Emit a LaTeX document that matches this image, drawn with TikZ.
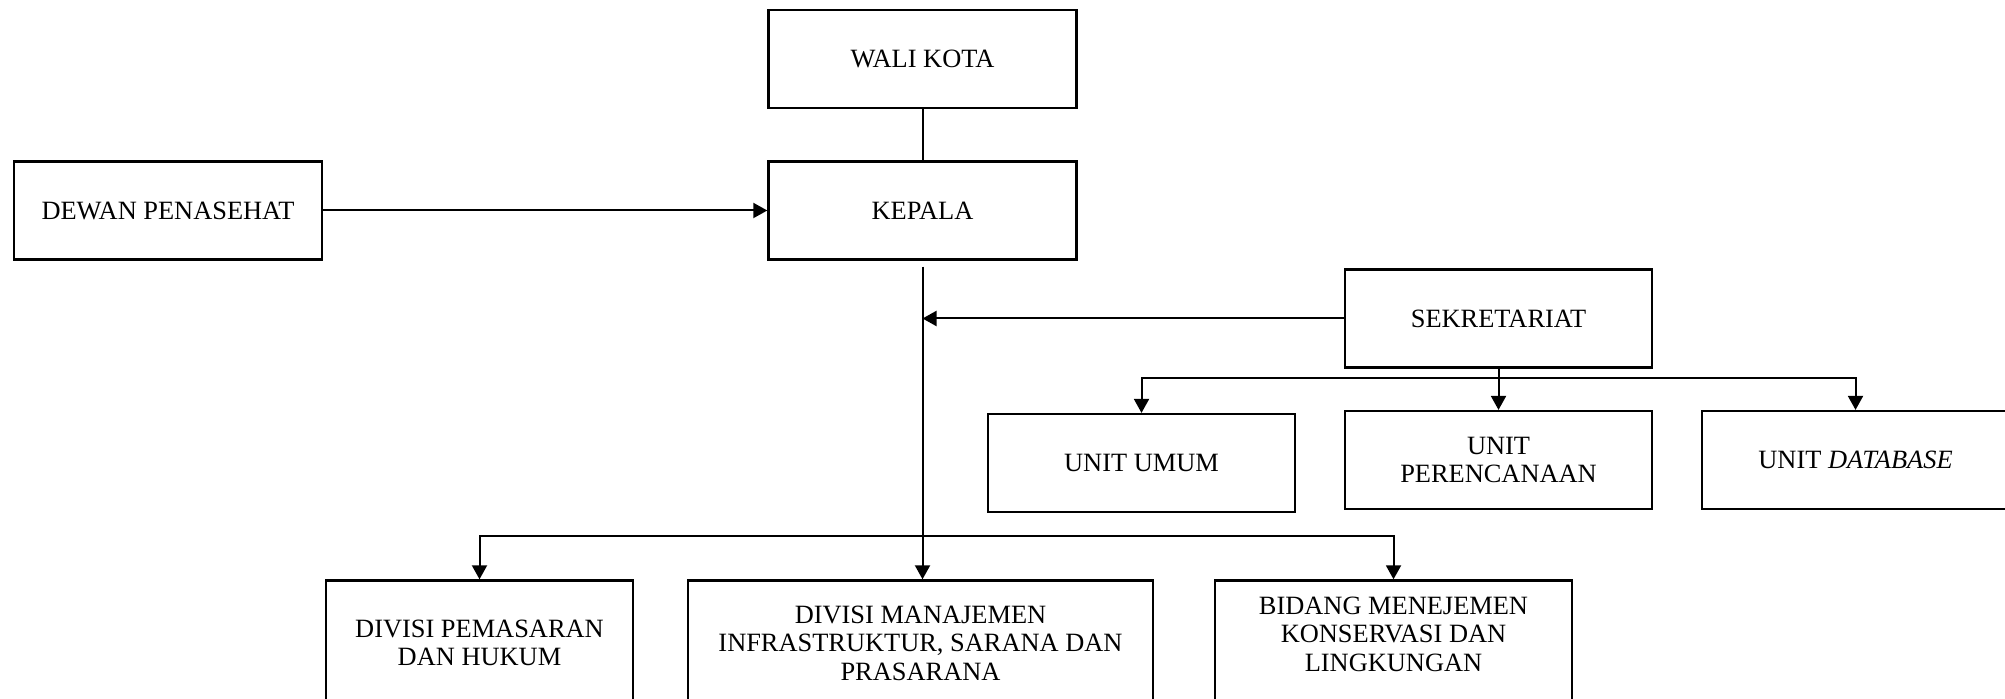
\documentclass[tikz,border=0pt]{standalone}
\usepackage{fontspec}
\setmainfont{Liberation Serif}
\usepackage{tikz}
\usetikzlibrary{%
  arrows.meta, positioning, calc
}
\tikzstyle{obox} = [%
  rectangle,
  draw=black,
  line width=1.2pt,
  minimum width=154pt,
  minimum height=49pt,
  align=center,
  text centered,
  inner sep=2pt,
  font=\fontsize{13.2pt}{14.3pt}\selectfont
]

\begin{document}
\begin{tikzpicture}[%
  orgline/.style={%
    line width=1pt,
    -{Triangle[length=7pt,width=7.5pt]}
  },
  plainline/.style={%
    line width=1pt
  },
  lowbox/.style={%
    obox,
    minimum height=62.5pt
  }
]

  \useasboundingbox (0pt,0pt) rectangle (1002.5pt,-349.5pt);

  % Nodes
  \node[obox] (wali) at (461.25pt,-29.5pt) {WALI KOTA};
  \node[obox,below=25.55pt of wali] (kepala) {KEPALA};
  \node[obox,left=222.05pt of kepala] (dewan) {DEWAN PENASEHAT};
  \node[obox,below=3.8pt of kepala,xshift=288pt,minimum width=153.5pt] (sekre) {SEKRETARIAT};
  \node[obox,below=20.6pt of sekre,minimum width=153.5pt] (peren) {UNIT\\PERENCANAAN};
  \node[obox,left=23.8pt of peren,yshift=-1.5pt,minimum width=153.5pt] (umum) {UNIT UMUM};
  \node[obox,right=23.8pt of peren,minimum width=153.5pt] (datab) {UNIT \textit{DATABASE}};
  \node[lowbox,below=159.3pt of kepala,xshift=-1pt,minimum width=232.5pt] (manaj) {DIVISI MANAJEMEN\\INFRASTRUKTUR, SARANA DAN\\PRASARANA};
  \node[lowbox,left=26.3pt of manaj,minimum width=153.5pt] (pemas) {DIVISI PEMASARAN\\DAN HUKUM};
  \node[lowbox,right=29.8pt of manaj,minimum width=178.5pt,text depth=9pt] (bidang) {BIDANG MENEJEMEN\\KONSERVASI DAN\\LINGKUNGAN};

  % Junctions
  \coordinate[above=21.5pt of manaj.north] (jdiv);
  \coordinate[below=4.5pt of sekre.south] (jsek);

  % Edges
  \draw[plainline] (wali) -- (kepala);
  \draw[orgline] (dewan) -- (kepala);
  \draw[orgline,shorten <=3pt] (kepala.south) -- (kepala.south |- manaj.north);
  \draw[orgline] (sekre.west) -- (kepala.south |- sekre.west);
  \draw[orgline] (jdiv -| kepala.south) -| (pemas.north);
  \draw[orgline] (jdiv -| kepala.south) -| (bidang.north);
  \draw[orgline] (sekre) -- (peren);
  \draw[orgline] (jsek) -| (umum.north);
  \draw[orgline] (jsek) -| (datab.north);

\end{tikzpicture}
\end{document}
